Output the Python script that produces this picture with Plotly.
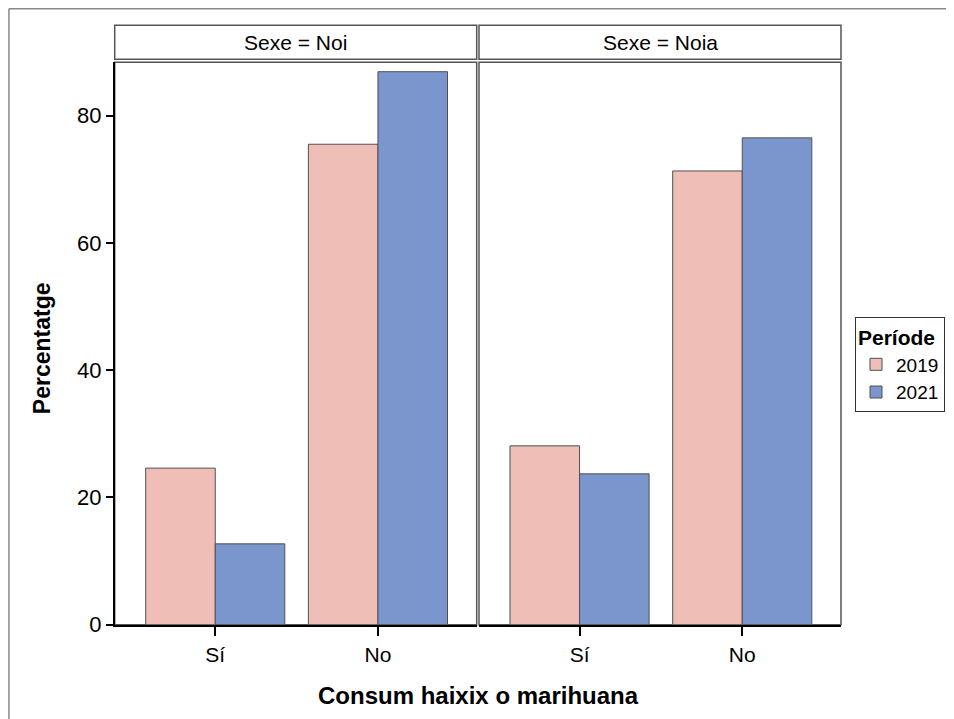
import plotly.graph_objects as go

W, H = 938, 724
categories = ["Sí", "No"]
periods = ["2019", "2021"]
sexes = ["Noi", "Noia"]
values = {
    "Noi": {"2019": [24.6, 75.5], "2021": [12.7, 86.9]},
    "Noia": {"2019": [28.1, 71.3], "2021": [23.7, 76.5]},
}
colors = {"2019": "#EEBEB7", "2021": "#7B96CC"}
yticks = [0, 20, 40, 60, 80]

FONT = "Liberation Sans, Arial, sans-serif"
OFF = 8      # page body margin
SY = 0.982   # observed vertical scale of the capture

def px(x):
    return (x - OFF) / W

def py(y):
    return (H - (y / SY - OFF)) / H

panels = [(114.7, 476.7), (479.0, 841.0)]
ytop, ybot = 62.0, 624.5

fig = go.Figure()
for i, sex in enumerate(sexes):
    xa = "x" if i == 0 else "x2"
    ya = "y" if i == 0 else "y2"
    for p in periods:
        fig.add_trace(go.Bar(
            x=categories, y=values[sex][p], name=p,
            marker=dict(color=colors[p], line=dict(color="#505050", width=1)),
            xaxis=xa, yaxis=ya, showlegend=(i == 0), legendgroup=p,
        ))

xcommon = dict(
    range=[-0.618, 1.607], showline=True, linecolor="black", linewidth=1.5,
    ticks="outside", ticklen=10, tickcolor="black", tickwidth=1.5,
    tickfont=dict(family=FONT, size=21, color="black"), showgrid=False,
    zeroline=False, fixedrange=True,
)
fig.update_layout(
    width=W, height=H,
    margin=dict(l=0, r=0, t=0, b=0),
    paper_bgcolor="white", plot_bgcolor="white",
    barmode="group", bargap=0.145, bargroupgap=0,
    font=dict(family=FONT, color="black"),
    xaxis=dict(domain=[px(panels[0][0]), px(panels[0][1])], anchor="y", **xcommon),
    xaxis2=dict(domain=[px(panels[1][0]), px(panels[1][1])], anchor="y2", **xcommon),
    yaxis=dict(domain=[py(ybot), py(ytop)], range=[0, 88.4], tickvals=yticks,
               showline=True, linecolor="black", linewidth=1.5, ticks="outside",
               ticklen=7, tickcolor="black", tickwidth=1.5,
               tickfont=dict(family=FONT, size=22, color="black"),
               showgrid=False, zeroline=False, anchor="x", fixedrange=True),
    yaxis2=dict(domain=[py(ybot), py(ytop)], range=[0, 88.4], showticklabels=False,
                ticks="", showline=False, showgrid=False, zeroline=False,
                anchor="x2", fixedrange=True),
    legend=dict(
        title=dict(text="<b>Període</b>", font=dict(family=FONT, size=21, color="black")),
        font=dict(family=FONT, size=19, color="black"),
        x=px(855), y=py(317), xanchor="left", yanchor="top",
        bordercolor="#333333", borderwidth=1, bgcolor="white",
        tracegroupgap=0,
    ),
    showlegend=True,
)

shapes = []
# outer frame (top and left)
shapes.append(dict(type="line", xref="paper", yref="paper", x0=0.001, x1=1, y0=py(8.5), y1=py(8.5),
                   line=dict(color="#888888", width=1.5)))
shapes.append(dict(type="line", xref="paper", yref="paper", x0=0.001, x1=0.001, y0=py(8.5), y1=0,
                   line=dict(color="#888888", width=1.5)))
for (x0, x1), sex in zip(panels, sexes):
    shapes.append(dict(type="rect", xref="paper", yref="paper", x0=px(x0), x1=px(x1),
                       y0=py(ybot), y1=py(ytop), line=dict(color="#555555", width=1.5),
                       layer="below"))
    shapes.append(dict(type="rect", xref="paper", yref="paper", x0=px(x0), x1=px(x1),
                       y0=py(59), y1=py(25), line=dict(color="#555555", width=1.5),
                       fillcolor="white"))
fig.update_layout(shapes=shapes)

annotations = []
for (x0, x1), sex in zip(panels, sexes):
    annotations.append(dict(text=f"Sexe = {sex}", xref="paper", yref="paper",
                            x=px((x0 + x1) / 2), y=py(42), xanchor="center", yanchor="middle",
                            showarrow=False, font=dict(family=FONT, size=21, color="black")))
annotations.append(dict(text="<b>Consum haixix o marihuana</b>", xref="paper", yref="paper",
                        x=px(478), y=py(695), xanchor="center", yanchor="middle",
                        showarrow=False, font=dict(family=FONT, size=24, color="black")))
annotations.append(dict(text="<b>Percentatge</b>", xref="paper", yref="paper",
                        x=px(42), y=py(348), xanchor="center", yanchor="middle", textangle=-90,
                        showarrow=False, font=dict(family=FONT, size=23, color="black")))
fig.update_layout(annotations=annotations)

fig.write_html("out.html")
